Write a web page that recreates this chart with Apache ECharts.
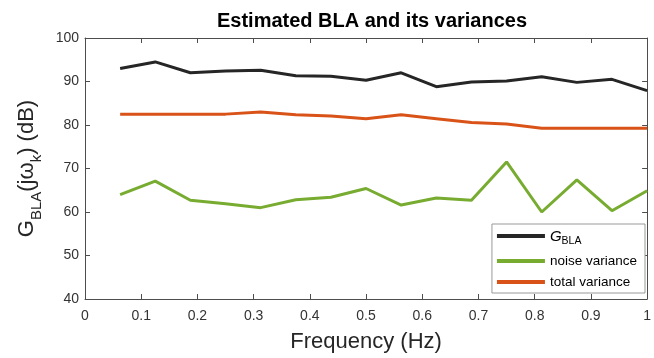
<!DOCTYPE html>
<html><head><meta charset="utf-8">
<script src="https://cdn.jsdelivr.net/npm/echarts@6/dist/echarts.min.js"></script>
<style>html,body{margin:0;padding:0;background:#fff}#c{width:654px;height:358px}</style>
</head><body><div id="c"></div>
<script>
const freq = [0.0625,0.125,0.1875,0.25,0.3125,0.375,0.4375,0.5,0.5625,0.625,0.6875,0.75,0.8125,0.875,0.9375,1.0];
const gBLA = [93.0,94.5,92.0,92.4,92.6,91.3,91.2,90.3,92.0,88.8,89.9,90.1,91.1,89.8,90.5,87.9];
const noiseVar = [64.0,67.1,62.7,61.9,61.0,62.8,63.4,65.4,61.6,63.2,62.7,71.5,60.0,67.4,60.3,64.9];
const totalVar = [82.5,82.5,82.5,82.5,83.0,82.35,82.05,81.45,82.35,81.45,80.55,80.25,79.25,79.25,79.25,79.25];
const names = ['G_BLA','noise variance','total variance'];
const colors = ['#262626','#77AC30','#D95319'];

const font = 'Liberation Sans, Arial, sans-serif';
const axisCol = '#4d4d4d';
function pairs(v){ return freq.map((f,i)=>[f,v[i]]); }
const chart = echarts.init(document.getElementById('c'));
const mkX = (pos, show) => ({type:'value', position:pos, min:0, max:1, interval:0.1,
  axisLine:{show:true, onZero:false, lineStyle:{color:axisCol}},
  axisTick:{show:true, inside:true, length:5, lineStyle:{color:axisCol}},
  axisLabel:{show:show, color:'#333', fontSize:14, fontFamily:font, margin:10},
  splitLine:{show:false}});
const mkY = (pos, show) => ({type:'value', position:pos, min:40, max:100, interval:10,
  axisLine:{show:true, onZero:false, lineStyle:{color:axisCol}},
  axisTick:{show:true, inside:true, length:5, lineStyle:{color:axisCol}},
  axisLabel:{show:show, color:'#333', fontSize:14, fontFamily:font, margin:6},
  splitLine:{show:false}});
const xBottom = mkX('bottom', true);
xBottom.name = 'Frequency (Hz)'; xBottom.nameLocation='middle'; xBottom.nameGap=32;
xBottom.nameTextStyle = {fontSize:22, color:'#262626', fontFamily:font};
const yLeft = mkY('left', true);
yLeft.name = '{n|G}{s|BLA}{n|(j}{n|ω}{s|k}{n|) (dB)}';
yLeft.nameLocation='middle'; yLeft.nameGap=47; yLeft.nameRotate=90;
yLeft.nameTextStyle = {color:'#262626', fontFamily:font, rich:{
  n:{fontSize:22, color:'#262626', fontFamily:font, verticalAlign:'bottom', lineHeight:25},
  s:{fontSize:15, color:'#262626', fontFamily:font, verticalAlign:'bottom', lineHeight:25, padding:[0,0,-6,0]}}};
chart.setOption({
  animation:false,
  title:{text:'Estimated BLA and its variances', left:367, textAlign:'center', top:6,
    textStyle:{fontSize:20, fontWeight:'bold', color:'#000', fontFamily:font}},
  grid:{left:85, right:3, top:38, bottom:55},
  xAxis:[xBottom, mkX('top', false)],
  yAxis:[yLeft, mkY('right', false)],
  legend:{orient:'vertical', right:9, top:224, backgroundColor:'#fff', borderColor:'#999', borderWidth:1,
    padding:[5,8,4,5], itemGap:7, itemWidth:48, itemHeight:4, icon:'rect', data:names,
    formatter: n => n==='G_BLA' ? '{i|G}{s|BLA}' : n,
    textStyle:{fontSize:13.5, color:'#000', fontFamily:font, rich:{
      i:{fontSize:15, fontStyle:'italic', color:'#000', fontFamily:font, verticalAlign:'bottom', lineHeight:16},
      s:{fontSize:10.5, color:'#000', fontFamily:font, verticalAlign:'bottom', lineHeight:16, padding:[0,0,-3,0]}}}},
  series:[gBLA, noiseVar, totalVar].map((v,i)=>({name:names[i], type:'line', data:pairs(v),
    showSymbol:false, symbol:'none', lineStyle:{width:3, color:colors[i]}, itemStyle:{color:colors[i]}, z:3-i}))
});
</script></body></html>
